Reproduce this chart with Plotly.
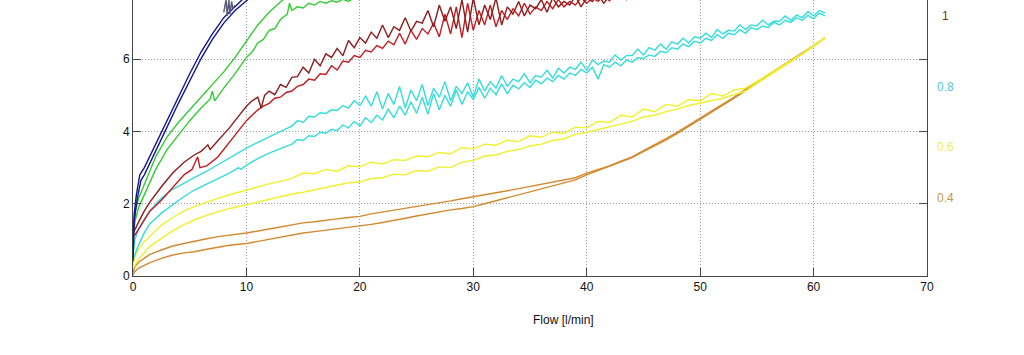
import plotly.graph_objects as go

# ---------------- data ----------------
X_HALF_12_44 = [12.0, 12.5, 13.0, 13.5, 14.0, 14.5, 15.0, 15.5, 16.0, 16.5, 17.0, 17.5, 18.0, 18.5,
                19.0, 19.5, 20.0, 20.5, 21.0, 21.5, 22.0, 22.5, 23.0, 23.5, 24.0, 24.5, 25.0, 25.5,
                26.0, 26.5, 27.0, 27.5, 28.0, 28.5, 29.0, 29.5, 30.0, 30.5, 31.0, 31.5, 32.0, 32.5,
                33.0, 33.5, 34.0, 34.5, 35.0, 35.5, 36.0, 36.5, 37.0, 37.5, 38.0, 38.5, 39.0, 39.5,
                40.0, 40.5, 41.0, 41.5, 42.0, 42.5, 43.0, 43.5, 44.0]
X_HALF_14_61 = [14.0, 14.5, 15.0, 15.5, 16.0, 16.5, 17.0, 17.5, 18.0, 18.5, 19.0, 19.5, 20.0, 20.5,
                21.0, 21.5, 22.0, 22.5, 23.0, 23.5, 24.0, 24.5, 25.0, 25.5, 26.0, 26.5, 27.0, 27.5,
                28.0, 28.5, 29.0, 29.5, 30.0, 30.5, 31.0, 31.5, 32.0, 32.5, 33.0, 33.5, 34.0, 34.5,
                35.0, 35.5, 36.0, 36.5, 37.0, 37.5, 38.0, 38.5, 39.0, 39.5, 40.0, 40.5, 41.0, 41.5,
                42.0, 42.5, 43.0, 43.5, 44.0, 44.5, 45.0, 45.5, 46.0, 46.5, 47.0, 47.5, 48.0, 48.5,
                49.0, 49.5, 50.0, 50.5, 51.0, 51.5, 52.0, 52.5, 53.0, 53.5, 54.0, 54.5, 55.0, 55.5,
                56.0, 56.5, 57.0, 57.5, 58.0, 58.5, 59.0, 59.5, 60.0, 60.5, 61.0]
X_ONE_15_61 = [15, 16, 17, 18, 19, 20, 21, 22, 23, 24, 25, 26, 27, 28, 29, 30, 31, 32, 33, 34, 35, 36,
               37, 38, 39, 40, 41, 42, 43, 44, 45, 46, 47, 48, 49, 50, 51, 52, 53, 54, 55, 56, 57, 58,
               59, 60, 61]
X_ONE_16_61 = X_ONE_15_61[1:]

# blue group
BLUE_A_X = [0, 0.1, 0.3, 0.6, 1, 2, 3, 4, 5, 6, 7, 8, 9, 9.8]
BLUE_A_Y = [0.5, 1.7, 2.25, 2.8, 3.0, 3.65, 4.3, 4.95, 5.6, 6.2, 6.7, 7.15, 7.45, 7.7]
BLUE_B_X = [0, 0.1, 0.35, 0.7, 1, 2, 3, 4, 5, 6, 7, 8, 9, 10, 10.3]
BLUE_B_Y = [0.4, 1.5, 2.1, 2.65, 2.8, 3.48, 4.12, 4.78, 5.42, 6.02, 6.55, 7.0, 7.35, 7.6, 7.7]
GREY_X = [8.0, 8.2, 8.3, 8.45, 8.55, 8.7, 8.8, 9.0]
GREY_Y = [7.3, 7.65, 7.2, 7.65, 7.25, 7.6, 7.4, 7.5]

# green group
GREEN_A_X = [0, 0.2, 0.5, 1, 2, 3, 4, 5, 6, 7, 8, 9, 10, 11, 12, 13, 13.4]
GREEN_A_Y = [1.25, 1.8, 2.15, 2.55, 3.3, 3.85, 4.25, 4.6, 4.95, 5.3, 5.65, 6.05, 6.5, 6.95, 7.3, 7.6, 7.7]
GREEN_B_X = [0, 0.2, 0.5, 1, 2, 3, 4, 5, 6, 6.8, 7.0, 7.2, 8, 9, 10, 10.5, 11, 11.5, 12, 12.5,
             13, 13.6, 13.8, 14, 14.5, 15, 15.5, 16, 16.5, 17, 17.5, 18, 18.5, 19, 19.5, 20]
GREEN_B_Y = [1.1, 1.55, 1.9, 2.25, 2.95, 3.5, 3.9, 4.3, 4.65, 4.9, 5.12, 4.85, 5.2, 5.6, 6.05, 6.2,
             6.45, 6.55, 6.8, 6.85, 7.1, 7.25, 7.55, 7.35, 7.45, 7.42, 7.55, 7.5, 7.6, 7.55, 7.62,
             7.58, 7.66, 7.6, 7.7, 7.68]

# dark red group (label 1)
RED_A_X0 = [0, 0.2, 0.5, 1, 1.5, 2.5, 3.5, 4.5, 5.4, 6.0, 6.6, 6.8, 7.5, 8.5, 9.5, 10, 10.5, 11,
            11.3, 11.6]
RED_A_Y0 = [1.2, 1.3, 1.5, 1.8, 2.05, 2.47, 2.85, 3.15, 3.35, 3.45, 3.63, 3.5, 3.75, 4.1, 4.5, 4.7,
            4.85, 4.95, 4.65, 5.0]
RED_A_Y1 = [5.12, 5.02, 5.3, 5.22, 5.5, 5.52, 5.78, 5.62, 6.0, 5.82,
            6.15, 6.05, 6.3, 6.1, 6.52, 6.32, 6.6, 6.45, 6.75, 6.58,
            6.95, 6.6, 6.9, 6.8, 7.15, 6.78, 7.05, 7.0, 7.35, 6.9,
            7.5, 7.05, 7.45, 6.85, 7.65, 6.75, 7.7, 6.95, 7.5, 7.1,
            7.7, 6.95, 7.45, 7.25, 7.6, 7.2, 7.5, 7.4, 7.65, 7.3,
            7.7, 7.45, 7.6, 7.5, 7.75, 7.45, 7.7, 7.6, 7.8, 7.55,
            7.75, 7.7, 7.8, 7.65, 7.85]
RED_B_X0 = [0, 0.2, 0.5, 1, 1.5, 2.5, 3.5, 4.5, 5.2, 5.5, 5.7, 5.9, 6.5, 7.5, 8.5, 9.5, 10, 10.5,
            11, 11.5]
RED_B_Y0 = [1.1, 1.15, 1.3, 1.55, 1.8, 2.1, 2.45, 2.8, 2.95, 3.15, 3.3, 3.0, 3.05, 3.3, 3.7, 4.1,
            4.3, 4.45, 4.6, 4.7]
RED_B_Y1 = [4.78, 4.92, 4.95, 5.08, 5.12, 5.25, 5.3, 5.45, 5.42, 5.6,
            5.58, 5.82, 5.7, 5.95, 5.92, 6.1, 6.05, 6.25, 6.2, 6.38,
            6.3, 6.5, 6.4, 6.72, 6.42, 6.8, 6.55, 6.85, 6.7, 7.0,
            6.62, 7.25, 6.7, 7.45, 6.6, 7.55, 6.8, 7.35, 6.95, 7.5,
            6.9, 7.35, 7.1, 7.4, 7.2, 7.55, 7.25, 7.45, 7.35, 7.6,
            7.4, 7.65, 7.45, 7.6, 7.5, 7.7, 7.55, 7.7, 7.6, 7.75,
            7.62, 7.78, 7.68, 7.8, 7.7]

# cyan group (label 0.8)
CYAN_A_X0 = [0, 0.15, 0.5, 1, 1.5, 2.5, 3.5, 4.5, 5.4, 6.5, 7.5, 8.5, 9.5, 10, 11, 12, 13]
CYAN_A_Y0 = [0.55, 1.0, 1.3, 1.58, 1.8, 2.16, 2.4, 2.58, 2.72, 2.9, 3.08, 3.28, 3.45, 3.54, 3.7,
             3.85, 4.0]
CYAN_A_Y1 = [4.15, 4.3, 4.25, 4.42, 4.4, 4.52, 4.5, 4.6, 4.58, 4.72,
             4.65, 4.85, 4.72, 4.98, 4.7, 5.1, 4.62, 5.05, 4.75, 5.25,
             4.65, 5.15, 4.85, 5.3, 4.72, 5.2, 4.95, 5.38, 4.85, 5.25,
             5.05, 5.35, 4.95, 5.45, 5.12, 5.38, 5.2, 5.55, 5.25, 5.45,
             5.38, 5.6, 5.35, 5.55, 5.5, 5.7, 5.48, 5.75, 5.62, 5.78,
             5.72, 5.92, 5.7, 5.98, 5.85, 5.95, 5.92, 6.12, 5.98, 6.1,
             6.1, 6.28, 6.12, 6.32, 6.25, 6.42, 6.28, 6.48, 6.42, 6.58,
             6.45, 6.62, 6.58, 6.72, 6.6, 6.82, 6.7, 6.8, 6.78, 6.95,
             6.82, 6.95, 6.92, 7.08, 6.95, 7.05, 7.05, 7.2, 7.08, 7.22,
             7.15, 7.32, 7.2, 7.35, 7.28]
CYAN_B_X0 = [0, 0.44, 1, 1.5, 2.5, 3.5, 4.5, 5.4, 6.5, 7.5, 8.5, 9.3, 9.5, 10, 11, 12, 13]
CYAN_B_Y0 = [0.45, 0.82, 1.2, 1.45, 1.74, 1.98, 2.2, 2.38, 2.55, 2.7, 2.85, 3.0, 2.95, 3.07, 3.25,
             3.4, 3.52]
CYAN_B_Y1 = [3.65, 3.78, 3.75, 3.88, 3.86, 3.98, 3.95, 4.06, 4.02, 4.18,
             4.1, 4.28, 4.15, 4.38, 4.25, 4.45, 4.32, 4.62, 4.38, 4.7,
             4.45, 4.82, 4.5, 4.95, 4.48, 5.05, 4.6, 5.0, 4.7, 5.15,
             4.75, 5.1, 4.88, 5.22, 4.92, 5.2, 5.02, 5.32, 5.05, 5.28,
             5.18, 5.35, 5.22, 5.42, 5.32, 5.48, 5.38, 5.55, 5.45, 5.62,
             5.55, 5.72, 5.62, 5.78, 5.45, 5.85, 5.78, 5.92, 5.82, 5.98,
             5.92, 6.05, 6.02, 6.12, 6.08, 6.22, 6.18, 6.32, 6.28, 6.42,
             6.35, 6.5, 6.45, 6.58, 6.52, 6.68, 6.58, 6.72, 6.68, 6.82,
             6.72, 6.88, 6.82, 6.92, 6.88, 7.02, 6.95, 7.08, 7.02, 7.15,
             7.08, 7.22, 7.12, 7.28, 7.2]

# yellow group (label 0.6)
YELLOW_A_X0 = [0, 0.15, 0.5, 1, 1.5, 2.5, 3.5, 4.5, 5.4, 6.5, 7.5, 8.5, 10, 11, 12, 13, 14]
YELLOW_A_Y0 = [0.3, 0.53, 0.75, 0.95, 1.1, 1.41, 1.62, 1.8, 1.92, 2.05, 2.15, 2.25, 2.38, 2.48,
               2.55, 2.62, 2.7]
YELLOW_A_Y1 = [2.85, 2.83, 2.95, 2.9, 3.05, 3.02, 3.15, 3.1, 3.22, 3.2,
               3.32, 3.3, 3.42, 3.38, 3.55, 3.52, 3.65, 3.62, 3.76, 3.72,
               3.88, 3.84, 3.98, 3.95, 4.12, 4.1, 4.28, 4.25, 4.45, 4.4,
               4.62, 4.55, 4.75, 4.7, 4.88, 4.85, 5.05, 4.98, 5.15,
               5.2, 5.38, 5.57, 5.77, 5.96, 6.16, 6.38, 6.6]
YELLOW_B_X0 = [0, 0.44, 1, 1.5, 2.5, 3.5, 4.5, 5.4, 6.5, 7.5, 8.5, 10, 11, 12, 13, 14]
YELLOW_B_Y0 = [0.2, 0.44, 0.65, 0.82, 1.04, 1.25, 1.42, 1.55, 1.68, 1.78, 1.87, 1.97, 2.05, 2.12,
               2.2, 2.27]
YELLOW_B_Y1 = [2.32, 2.38, 2.45, 2.5, 2.58, 2.6, 2.7, 2.72, 2.82, 2.8,
               2.92, 2.9, 3.02, 3.0, 3.15, 3.2, 3.32, 3.35, 3.45, 3.5,
               3.6, 3.65, 3.75, 3.8, 3.92, 3.98, 4.05, 4.12, 4.2, 4.28,
               4.4, 4.45, 4.55, 4.62, 4.72, 4.78, 4.85, 4.92, 5.02,
               5.12, 5.33, 5.53, 5.74, 5.94, 6.14, 6.36, 6.58]

# orange group (label 0.4)
ORANGE_A_X0 = [0, 0.15, 0.5, 1, 1.5, 2.5, 3.5, 4.5, 5.4, 6.5, 7.5, 8.5, 10, 12, 14, 15]
ORANGE_A_Y0 = [0.1, 0.25, 0.38, 0.5, 0.6, 0.72, 0.83, 0.9, 0.95, 1.03, 1.09, 1.13, 1.19, 1.3,
               1.42, 1.47]
ORANGE_A_Y1 = [1.5, 1.55, 1.58, 1.62, 1.65, 1.72, 1.77, 1.82, 1.88, 1.93,
               1.97, 2.03, 2.08, 2.14, 2.19, 2.25, 2.3, 2.36, 2.42, 2.48,
               2.53, 2.58, 2.65, 2.72, 2.85, 2.95, 3.05, 3.18, 3.3, 3.47,
               3.63, 3.8, 3.98, 4.17, 4.37, 4.55, 4.75, 4.95, 5.17, 5.37,
               5.57, 5.77, 5.96, 6.16, 6.38, 6.6]
ORANGE_B_X0 = [0, 0.15, 0.5, 1, 1.5, 2.5, 3.5, 4.5, 5.4, 6.5, 7.5, 8.5, 10, 12, 14, 15]
ORANGE_B_Y0 = [0.02, 0.12, 0.22, 0.3, 0.37, 0.49, 0.58, 0.64, 0.67, 0.74, 0.8, 0.85, 0.9, 1.02,
               1.13, 1.19]
ORANGE_B_Y1 = [1.23, 1.27, 1.3, 1.34, 1.37, 1.43, 1.48, 1.55, 1.6, 1.66,
               1.72, 1.78, 1.83, 1.87, 1.92, 2.0, 2.08, 2.17, 2.25, 2.33,
               2.42, 2.5, 2.58, 2.66, 2.8, 2.92, 3.03, 3.16, 3.28, 3.44,
               3.6, 3.77, 3.95, 4.14, 4.34, 4.52, 4.72, 4.92, 5.13, 5.34,
               5.54, 5.75, 5.94, 6.14, 6.36, 6.58]

X_TICKS = [0, 10, 20, 30, 40, 50, 60, 70]
Y_TICKS = [0, 2, 4, 6]
X_TITLE = "Flow [l/min]"
RIGHT_LABELS = ["1", "0.8", "0.6", "0.4"]

# ---------------- styling ----------------
C_ORANGE = "#D28A2E"
C_YELLOW = "#F0F02C"
C_CYAN = "#35DCDC"
C_RED_A = "#8E1C1C"
C_RED_B = "#C41C20"
C_GREEN = "#33CC33"
C_BLUE = "#16168E"
C_GREY = "#5A5A78"

series = [
    (ORANGE_B_X0 + X_ONE_16_61, ORANGE_B_Y0 + ORANGE_B_Y1, C_ORANGE),
    (ORANGE_A_X0 + X_ONE_16_61, ORANGE_A_Y0 + ORANGE_A_Y1, C_ORANGE),
    (YELLOW_B_X0 + X_ONE_15_61, YELLOW_B_Y0 + YELLOW_B_Y1, C_YELLOW),
    (YELLOW_A_X0 + X_ONE_15_61, YELLOW_A_Y0 + YELLOW_A_Y1, C_YELLOW),
    (CYAN_B_X0 + X_HALF_14_61, CYAN_B_Y0 + CYAN_B_Y1, C_CYAN),
    (CYAN_A_X0 + X_HALF_14_61, CYAN_A_Y0 + CYAN_A_Y1, C_CYAN),
    (RED_B_X0 + X_HALF_12_44, RED_B_Y0 + RED_B_Y1, C_RED_B),
    (RED_A_X0 + X_HALF_12_44, RED_A_Y0 + RED_A_Y1, C_RED_A),
    (GREEN_B_X, GREEN_B_Y, C_GREEN),
    (GREEN_A_X, GREEN_A_Y, C_GREEN),
    (BLUE_B_X, BLUE_B_Y, C_BLUE),
    (BLUE_A_X, BLUE_A_Y, C_BLUE),
    (GREY_X, GREY_Y, C_GREY),
]

fig = go.Figure()
for xs, ys, col in series:
    fig.add_trace(go.Scatter(x=xs, y=ys, mode="lines",
                             line=dict(color=col, width=1.4), showlegend=False,
                             hoverinfo="skip"))

FONT = "Liberation Sans, Arial, Helvetica, sans-serif"
AX_COL = "#444444"
GRID_COL = "#9a9a9a"

fig.update_xaxes(range=[0, 70], tickvals=X_TICKS, ticktext=[str(v) for v in X_TICKS],
                 ticks="inside", ticklen=8, tickcolor=AX_COL, tickwidth=1,
                 showline=True, linecolor=AX_COL, linewidth=1, mirror=False,
                 showgrid=True, gridcolor=GRID_COL, griddash="1px,2px", gridwidth=1,
                 zeroline=False, tickfont=dict(family=FONT, size=12, color="#111"))
fig.update_yaxes(range=[0, 7.64], tickvals=Y_TICKS, ticktext=[str(v) for v in Y_TICKS],
                 ticks="inside", ticklen=8, tickcolor=AX_COL, tickwidth=1,
                 showline=True, linecolor=AX_COL, linewidth=1, mirror="ticks",
                 showgrid=True, gridcolor=GRID_COL, griddash="1px,2px", gridwidth=1,
                 zeroline=False, tickfont=dict(family=FONT, size=12, color="#111"))

label_cols = ["#7A2A2A", "#55C8D8", "#EEEE55", "#C49A40"]
label_y = [0.942, 0.685, 0.467, 0.283]
annotations = [dict(text=X_TITLE, xref="paper", yref="paper", x=0.5416, y=-0.159,
                    xanchor="center", yanchor="middle", showarrow=False,
                    font=dict(family=FONT, size=12, color="#111"))]
for txt, col, yy in zip(RIGHT_LABELS, label_cols, label_y):
    annotations.append(dict(text=txt, xref="paper", yref="paper", x=1.0239, y=yy,
                            xanchor="center", yanchor="middle", showarrow=False,
                            font=dict(family=FONT, size=12, color=col)))

fig.update_layout(width=1024, height=355, autosize=False,
                  margin=dict(l=133, r=97, t=0, b=79, pad=0),
                  paper_bgcolor="white", plot_bgcolor="white",
                  annotations=annotations, showlegend=False)

fig.write_html("out.html", config={"displayModeBar": False},
               post_script="document.body.style.margin='0';document.body.style.padding='0';"
                           "document.body.style.overflow='hidden';")
